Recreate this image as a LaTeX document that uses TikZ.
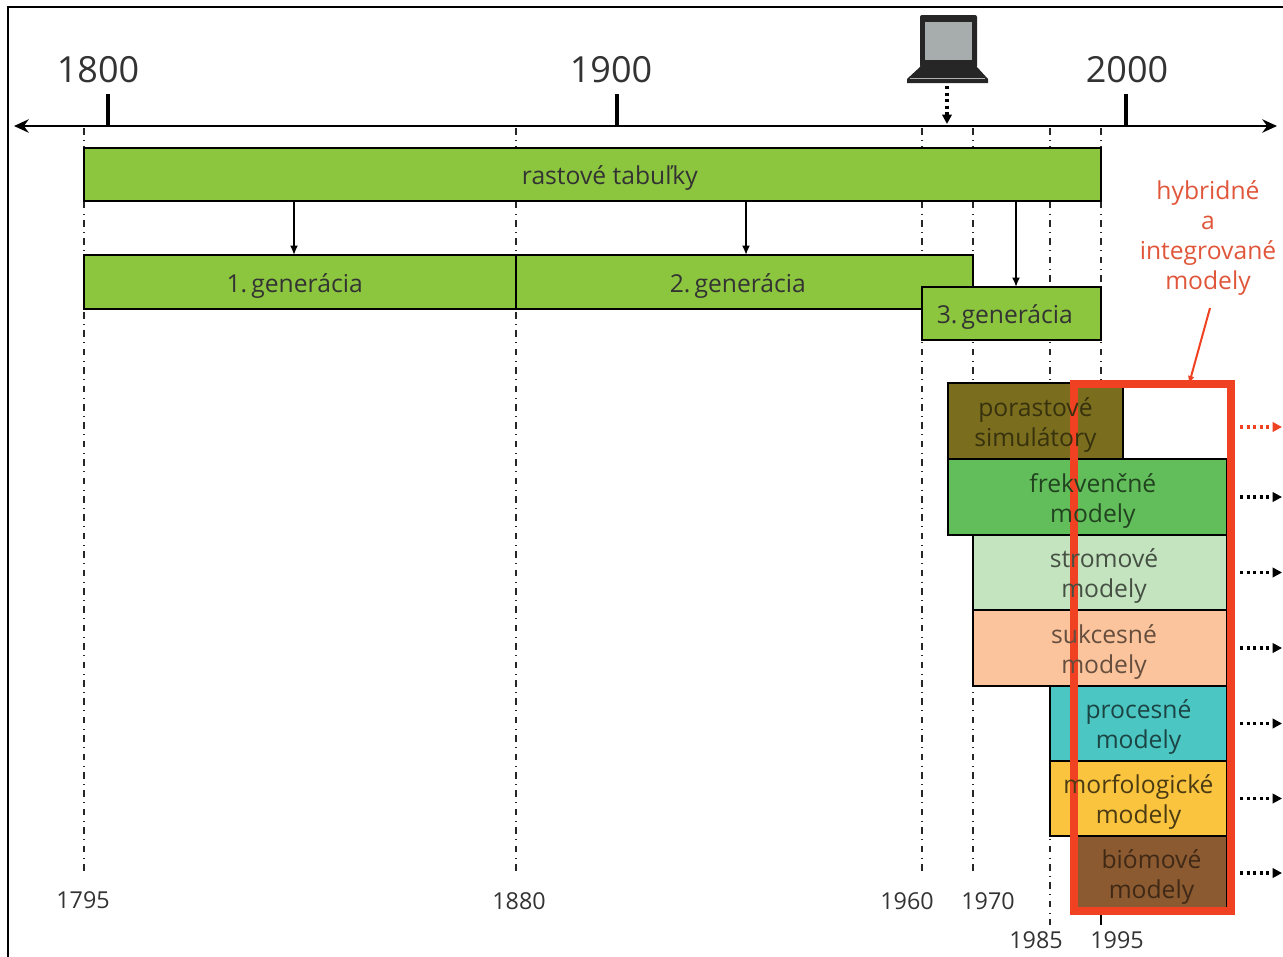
\documentclass[tikz,border=0pt]{standalone}
\usepackage{fontspec}
\setmainfont{Open Sans}
\usetikzlibrary{arrows.meta}
\definecolor{gbox}{HTML}{8CC63F}
\definecolor{psc}{HTML}{7A6E1E}
\definecolor{frc}{HTML}{62BE5A}
\definecolor{stc}{HTML}{C4E4C0}
\definecolor{suc}{HTML}{FCC49C}
\definecolor{prc}{HTML}{4CC6C2}
\definecolor{moc}{HTML}{FBC43E}
\definecolor{bic}{HTML}{8C5A30}
\definecolor{redc}{HTML}{F04223}
\definecolor{hyc}{HTML}{E0563A}
\definecolor{txt}{HTML}{333333}
\definecolor{scr}{HTML}{A6ADAC}
\newcommand\mkbox[6]{%
  \pgfmathsetmacro\mkw{(#4-#2)*0.75}%
  \pgfmathsetmacro\mkh{(#5-#3)*0.75}%
  \node[#6, minimum width=\mkw pt, minimum height=\mkh pt] (#1) at ({(#2+#4)/2},{(#3+#5)/2}) {};}
\begin{document}
\begin{tikzpicture}[x=0.75pt,y=-0.75pt,
  box/.style={draw=black, line width=1.5pt, inner sep=0pt, outer sep=0pt},
  gbx/.style={box, fill=gbox},
  btxt/.style={align=center, inner sep=0pt, yshift=-3pt, font=\fontsize{18.5}{22.5}\selectfont},
  big/.style={font=\fontsize{27}{30}\selectfont, text=txt, inner sep=0pt},
  small/.style={font=\fontsize{17.5}{20}\selectfont, text=txt, inner sep=0pt},
  dashdotline/.style={line width=1.2pt, black!85, dash pattern=on 5pt off 4pt on 0.8pt off 4pt},
  arr/.style={line width=1.5pt, -{Latex[length=7pt,width=6pt]}},
  dotarr/.style={line width=2.3pt, dash pattern=on 2.3pt off 2.6pt, -{Triangle[length=7pt,width=7pt]}}
]
\useasboundingbox (0,0) rectangle (1283,957);
% frame
\draw[line width=2pt] (8,957) -- (8,7) -- (1283,7);
% axis
\coordinate (axL) at (14,126);
\coordinate (axR) at (1277,126);
\draw[line width=2.2pt, {Stealth[length=11pt,width=10pt]}-{Stealth[length=11pt,width=10pt]}] (axL) -- (axR);
\foreach \x in {108,617,1126} \draw[line width=3.6pt] (\x,94) -- (\x,126);
\node[big] (y1800) at (98,70) {1800};
\node[big] (y1900) at (611,70) {1900};
\node[big] (y2000) at (1127,70) {2000};
% dash-dot guides
\foreach \x in {84,516,922,973} \draw[dashdotline] (\x,128) -- (\x,873);
\draw[dashdotline] (1050,128) -- (1050,925);
\draw[dashdotline] (1101,128) -- (1101,383);
\draw[line width=1.4pt] (1101,914) -- (1101,925);
% bottom years
\node[small] (b1795) at (83,900) {1795};
\node[small] (b1880) at (519,901) {1880};
\node[small] (b1960) at (907,901) {1960};
\node[small] (b1970) at (988,901) {1970};
\node[small] (b1985) at (1036,940) {1985};
\node[small] (b1995) at (1117,940) {1995};
% growth tables
\mkbox{rt}{84}{148}{1101}{201}{gbx}
\mkbox{g1}{84}{255}{516}{309}{gbx}
\mkbox{g2}{516}{255}{973}{309}{gbx}
\mkbox{g3}{922}{287}{1101}{340}{gbx}
\node[btxt, text=txt] (rtt) at ([xshift=13pt]rt.center) {rastové tabuľky};
\node[btxt, text=txt] (g1t) at ([xshift=-4pt]g1.center) {1.\,generácia};
\node[btxt, text=txt] (g2t) at ([xshift=-5pt]g2.center) {2.\,generácia};
\node[btxt, text=txt] (g3t) at ([xshift=-5pt]g3.center) {3.\,generácia};
\coordinate (c1) at (294,0);
\coordinate (c2) at (746,0);
\coordinate (c3) at (1016,0);
\draw[arr] (rt.south -| c1) -- (g1.north -| c1);
\draw[arr] (rt.south -| c2) -- (g2.north -| c2);
\draw[arr] (rt.south -| c3) -- (g3.north -| c3);
% laptop
\fill[black!85, rounded corners=1.5pt] (920,15) rectangle (977,68);
\fill[scr] (925,22) rectangle (972,60);
\fill[black!85] (920,67) -- (977,67) -- (988,79) -- (988,83) -- (907,83) -- (907,79) -- cycle;
\draw[gray!60, line width=1pt] (910,78.5) -- (985,78.5);
\coordinate (lap) at (947,86);
\coordinate (lapax) at (947,124);
\draw[dotarr] (lap) -- (lapax);
% model boxes
\mkbox{ps}{948}{383}{1123}{459}{box, fill=psc}
\mkbox{fr}{948}{459}{1227}{535}{box, fill=frc}
\mkbox{st}{973}{535}{1227}{610}{box, fill=stc}
\mkbox{su}{973}{610}{1227}{686}{box, fill=suc}
\mkbox{pr}{1050}{686}{1227}{761}{box, fill=prc}
\mkbox{mo}{1050}{761}{1227}{836}{box, fill=moc}
\mkbox{bi}{1076}{836}{1227}{910}{box, fill=bic}
% red frame
\mkbox{hy}{1074}{384}{1231}{911}{draw=redc, line width=6pt, inner sep=0pt, outer sep=0pt}
% model texts (on top of the red frame)
\node[btxt, text=black!55!psc] (pst) at (ps) {porastové\\simulátory};
\node[btxt, text=black!65!frc] (frt) at ([xshift=4pt]fr.center) {frekvenčné\\modely};
\node[btxt, text=black!65!stc] (stt) at ([xshift=3pt]st.center) {stromové\\modely};
\node[btxt, text=black!60!suc] (sut) at ([xshift=3pt]su.center) {sukcesné\\modely};
\node[btxt, text=black!65!prc] (prt) at (pr) {procesné\\modely};
\node[btxt, text=black!70!moc] (mot) at (mo) {morfologické\\modely};
\node[btxt, text=black!55!bic] (bit) at (bi) {biómové\\modely};
\node[text=hyc, align=center, inner sep=0pt, font=\fontsize{18.5}{22.7}\selectfont] (ht) at (1208,238) {hybridné\\a\\integrované\\modely};
\coordinate (hs) at (1210,308);
\coordinate (he) at (1189,0);
\draw[redc, line width=1.5pt, -{Latex[length=6pt,width=5pt]}] (hs) -- (hy.north -| he);
% outgoing arrows
\draw[dotarr, redc] ([xshift=6.8pt,yshift=-4.5pt]hy.east |- ps.east) -- ++(42,0);
\foreach \b in {fr,st,su,pr,mo,bi}
  \draw[dotarr] ([xshift=6.8pt]hy.east |- \b.east) -- ++(42,0);
\end{tikzpicture}
\end{document}
